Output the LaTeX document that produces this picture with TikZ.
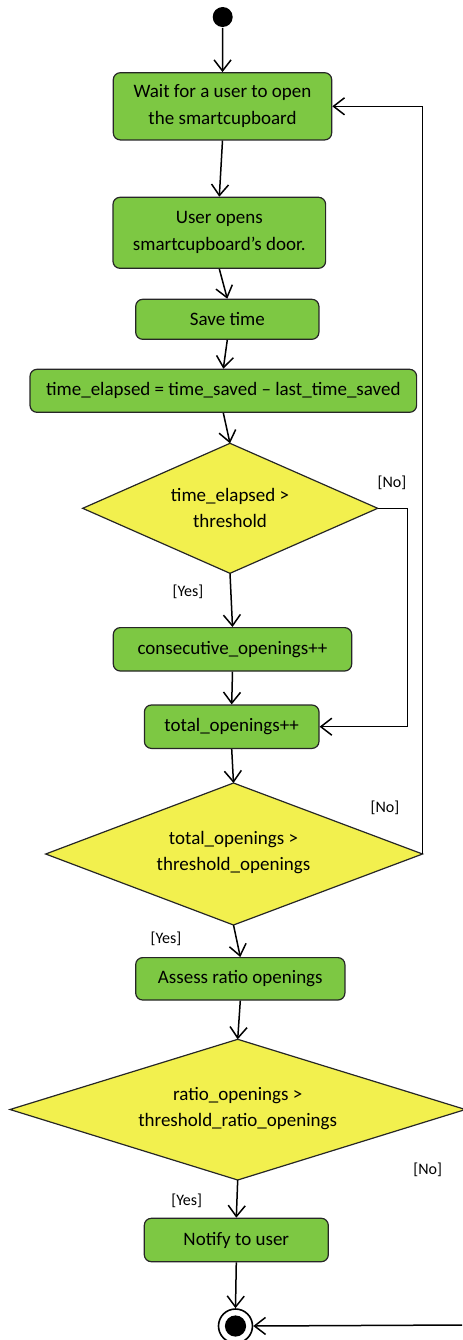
\documentclass[tikz,border=0pt]{standalone}
\usepackage{fontspec}
\setmainfont{Carlito}
\usetikzlibrary{arrows.meta}
\definecolor{boxgreen}{HTML}{7DC843}
\definecolor{decyellow}{HTML}{F2F04E}
\begin{document}
\begin{tikzpicture}[x=0.5pt,y=-0.5pt,
  line width=0.75pt,
  arr/.style={-{Straight Barb[length=5.5pt,width=8.5pt,line width=0.75pt]}},
  actbox/.style={draw=black!85, fill=boxgreen, rounded corners=3.5pt, line width=0.6pt,
     inner sep=0pt, align=center, font=\fontsize{9.5}{13.4}\selectfont},
  decshape/.style={draw=black!85, fill=decyellow, line width=0.6pt},
  dectext/.style={inner sep=0pt, align=center, font=\fontsize{9.5}{13.4}\selectfont},
  guard/.style={font=\fontsize{8}{9}\selectfont, inner sep=0pt}]
\useasboundingbox (0,0) rectangle (462,1340);

\node[circle, fill=black, minimum size=10pt, inner sep=0pt] (start) at (222.7,17) {};

\node[actbox, minimum width=109.2pt, minimum height=33.6pt] (b1) at (222.5,106.3)
  {Wait for a user to open\\the smartcupboard};
\node[actbox, minimum width=106.3pt, minimum height=35.5pt] (b2) at (219.3,232.8)
  {User opens\\smartcupboard’s door.};
\node[actbox, minimum width=91.6pt, minimum height=20pt] (b3) at (227.3,319.3) {Save time};
\node[actbox, minimum width=193.3pt, minimum height=21.5pt] (b4) at (223.3,390.8)
  {time\_elapsed = time\_saved – last\_time\_saved};

% decision 1
\coordinate (d1n) at (230,443.3);
\coordinate (d1e) at (377.7,508.3);
\coordinate (d1s) at (230,573.3);
\coordinate (d1w) at (82.7,508.3);
\draw[decshape] (d1n) -- (d1e) -- (d1s) -- (d1w) -- cycle;
\node[dectext] (d1) at (230,508) {time\_elapsed >\\threshold};

\node[actbox, minimum width=119.2pt, minimum height=21.7pt] (b5) at (232.5,649.3)
  {consecutive\_openings++};
\node[actbox, minimum width=87.3pt, minimum height=21.7pt] (b6) at (231.7,726.7)
  {total\_openings++};

% decision 2
\coordinate (d2n) at (233.5,783);
\coordinate (d2e) at (422.5,854);
\coordinate (d2s) at (233.5,925);
\coordinate (d2w) at (45.7,854);
\draw[decshape] (d2n) -- (d2e) -- (d2s) -- (d2w) -- cycle;
\node[dectext] (d2) at (233.5,852.5) {total\_openings >\\threshold\_openings};

\node[actbox, minimum width=104.6pt, minimum height=21.2pt] (b7) at (240.3,978.8)
  {Assess ratio openings};

% decision 3
\coordinate (d3n) at (237.7,1039.3);
\coordinate (d3e) at (465.4,1109.5);
\coordinate (d3s) at (237.7,1180);
\coordinate (d3w) at (10,1109.5);
\draw[decshape] (d3n) -- (d3e) -- (d3s) -- (d3w) -- cycle;
\node[dectext] (d3) at (237.7,1108.5) {ratio\_openings >\\threshold\_ratio\_openings};

\node[actbox, minimum width=92pt, minimum height=21.7pt] (b8) at (236.3,1240)
  {Notify to user};

\node[circle, draw=black, line width=0.8pt, minimum size=17pt, inner sep=0pt] (end) at (235.5,1326) {};
\fill[black] (end.center) circle (5.3pt);

\coordinate (edge) at (462,1325);

\draw[arr] (start) -- (b1.north);
\draw[arr] (b1.south) -- (b2.north);
\draw[arr] (b2.south) -- (b3.north);
\draw[arr] (b3.south) -- (b4.north);
\draw[arr] (b4.south) -- (d1n);
\draw[arr] (d1s) -- (b5.north);
\draw[arr] (b5.south) -- (b6.north);
\draw[arr] (b6.south) -- (d2n);
\draw[arr] (d2s) -- (b7.north);
\draw[arr] (b7.south) -- (d3n);
\draw[arr] (d3s) -- (b8.north);
\draw[arr] (b8.south) -- (end.north);

\draw[arr] (d1e) -- ++(29.6,0) |- (b6.east);
\draw[arr] (d2e) |- (b1.east);
\draw[arr] (edge) -- (end.east);

\node[guard] (no1) at (392,483) {[No]};
\node[guard] (yes1) at (188,591.7) {[Yes]};
\node[guard] (no2) at (385,807.3) {[No]};
\node[guard] (yes2) at (166,938.3) {[Yes]};
\node[guard] (no3) at (427.7,1170) {[No]};
\node[guard] (yes3) at (186.7,1200.7) {[Yes]};
\end{tikzpicture}
\end{document}
